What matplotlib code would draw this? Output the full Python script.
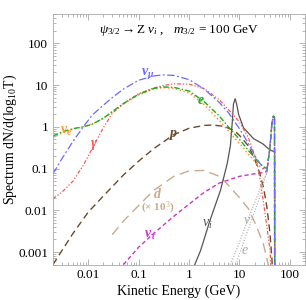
import numpy as np
import matplotlib
matplotlib.use("Agg")
import matplotlib.pyplot as plt
from matplotlib.ticker import LogLocator, FixedLocator, FixedFormatter, NullFormatter

plt.rcParams['font.family'] = ['Liberation Serif', 'DejaVu Serif']
plt.rcParams['mathtext.fontset'] = 'custom'
plt.rcParams['mathtext.rm'] = 'Liberation Serif'
plt.rcParams['mathtext.it'] = 'Liberation Serif:italic'
plt.rcParams['mathtext.bf'] = 'Liberation Serif:bold:italic'

# --- data (E in GeV, dN/dlog10 T) ---
numu_E = [0.002, 0.003, 0.005, 0.008, 0.012, 0.02, 0.03, 0.05, 0.1, 0.2, 0.3, 0.5, 1, 2, 4, 6, 10, 15, 22, 30, 35, 40, 44, 47, 49.5, 50]
numu_y = [0.075, 0.17, 0.45, 1.0, 1.9, 3.3, 5.0, 8.0, 13, 16.5, 17.5, 17, 13.5, 8, 3.8, 2.2, 0.9, 0.4, 0.17, 0.1, 0.09, 0.3, 1.2, 1.8, 1.7, 1e-5]

e_E = [0.002, 0.003, 0.005, 0.008, 0.012, 0.02, 0.03, 0.05, 0.1, 0.2, 0.3, 0.5, 1, 2, 4, 6, 10, 15, 22, 30, 35, 40, 44, 47, 49.5, 50]
e_y = [0.6, 0.75, 0.9, 1.0, 1.15, 1.6, 2.3, 3.6, 6, 8.3, 9, 8.8, 7.2, 4.0, 1.8, 1.0, 0.5, 0.27, 0.16, 0.11, 0.1, 0.3, 1.2, 1.8, 1.7, 1e-5]

nue_E = [0.002, 0.003, 0.005, 0.008, 0.012, 0.02, 0.03, 0.05, 0.1, 0.2, 0.3, 0.5, 1, 2, 4, 6, 10, 15, 22, 30, 35, 40, 44, 47, 49.5, 50]
nue_y = [0.55, 0.7, 0.88, 1.0, 1.15, 1.6, 2.3, 3.5, 5.8, 8, 8.7, 8.3, 6.5, 3.4, 1.4, 0.8, 0.4, 0.22, 0.13, 0.095, 0.09, 0.3, 1.2, 1.8, 1.7, 1e-5]

gam_E = [0.002, 0.003, 0.005, 0.008, 0.012, 0.02, 0.03, 0.05, 0.1, 0.2, 0.3, 0.5, 1, 2, 4, 6, 10, 15, 22, 26, 30, 35, 40, 44]
gam_y = [0.019, 0.027, 0.05, 0.12, 0.3, 0.95, 2.1, 3.6, 6.2, 8.5, 9.7, 10.7, 10.5, 8.2, 4.4, 2.6, 1.3, 0.55, 0.15, 0.05, 0.015, 0.004, 0.0012, 2e-4]

p_E = [0.002, 0.005, 0.01, 0.02, 0.05, 0.1, 0.2, 0.5, 1, 2, 3, 5, 8, 10, 15, 20, 25, 30, 35, 40, 44, 46]
p_y = [5e-4, 0.0028, 0.009, 0.022, 0.07, 0.15, 0.3, 0.65, 0.92, 1.08, 1.1, 1.02, 0.8, 0.62, 0.35, 0.17, 0.08, 0.035, 0.012, 0.003, 7e-4, 2e-4]

d_E = [0.03, 0.05, 0.1, 0.2, 0.5, 1, 2, 4, 6, 10, 15, 22, 30, 36, 40]
d_y = [0.0026, 0.0055, 0.013, 0.03, 0.065, 0.088, 0.09, 0.065, 0.04, 0.02, 0.011, 0.004, 0.0015, 6e-4, 3e-4]

nut_E = [0.05, 0.1, 0.2, 0.5, 1, 2, 4, 10, 20, 30, 35, 40, 44, 47, 49.5, 50]
nut_y = [5e-4, 0.0013, 0.0028, 0.0072, 0.014, 0.027, 0.045, 0.065, 0.075, 0.08, 0.085, 0.3, 1.2, 1.8, 1.7, 1e-5]

nui_E = [1.3, 1.7, 2.6, 4.2, 5.7, 6.6, 7.2, 7.6, 8.2, 8.8, 9.6, 12, 19, 29, 40, 49.8, 50]
nui_y = [5e-4, 0.0011, 0.0057, 0.03, 0.13, 0.35, 1.3, 3.5, 4.7, 3.5, 2.0, 0.95, 0.52, 0.39, 0.28, 0.25, 1e-5]

nu2_E = [6.6, 10, 15, 22, 30, 35]
nu2_y = [5e-4, 0.0017, 0.0065, 0.02, 0.055, 0.08]

e2_E = [8.5, 12, 18, 25, 32, 36]
e2_y = [5e-4, 0.0017, 0.0065, 0.02, 0.06, 0.085]

xticks = [0.01, 0.1, 1, 10, 100]
xtick_labels = ["0.01", "0.1", "1", "10", "100"]
yticks = [0.001, 0.01, 0.1, 1, 10, 100]
ytick_labels = ["0.001", "0.01", "0.1", "1", "10", "100"]

fig = plt.figure(figsize=(3.06, 3.0), dpi=100)
ax = fig.add_axes([0.173, 0.118, 0.824, 0.835])

ax.plot(nut_E, nut_y, color='#cc33cc', lw=1.0, dashes=(3, 2))
ax.plot(d_E, d_y, color='#c9aa8c', lw=1.0, dashes=(7, 4))
ax.plot(p_E, p_y, color='#6b4a2b', lw=1.0, dashes=(5, 3))
ax.plot(nu2_E, nu2_y, color='#aaaaaa', lw=0.8, dashes=(1, 1.5))
ax.plot(e2_E, e2_y, color='#aaaaaa', lw=0.8, dashes=(1, 1.5))
ax.plot(nui_E, nui_y, color='#555555', lw=0.9)
ax.plot(gam_E, gam_y, color='#ff5555', lw=0.9, dashes=(3, 1.5, 1, 1.5, 1, 1.5))
ax.plot(nue_E, nue_y, color='#ff9933', lw=1.1, dashes=(1, 1.6))
ax.plot(e_E, e_y, color='#22aa22', lw=1.0, dashes=(4, 1.5, 1, 1.5))
ax.plot(numu_E, numu_y, color='#6a6aff', lw=0.9, dashes=(6, 2, 1.5, 2))

ax.set_xscale('log')
ax.set_yscale('log')
ax.set_xlim(0.002, 200)
ax.set_ylim(5e-4, 500)

ax.xaxis.set_major_locator(FixedLocator(xticks))
ax.xaxis.set_major_formatter(FixedFormatter(xtick_labels))
ax.yaxis.set_major_locator(FixedLocator(yticks))
ax.yaxis.set_major_formatter(FixedFormatter(ytick_labels))
ax.xaxis.set_minor_locator(LogLocator(base=10, subs=np.arange(2, 10)))
ax.yaxis.set_minor_locator(LogLocator(base=10, subs=np.arange(2, 10)))
ax.xaxis.set_minor_formatter(NullFormatter())
ax.yaxis.set_minor_formatter(NullFormatter())
ax.tick_params(which='both', direction='in', top=True, right=True,
               color='#999999', labelsize=9.5, width=0.5)
ax.tick_params(which='major', length=4)
ax.tick_params(which='minor', length=2)
for s in ax.spines.values():
    s.set_color('#aaaaaa')
    s.set_linewidth(0.6)

ax.set_xlabel("Kinetic Energy (GeV)", fontsize=10, labelpad=2)
ax.set_ylabel(r"Spectrum dN/d(log$_{10}$T)", fontsize=10)
ax.yaxis.set_label_coords(-0.135, 0.5)

ax.text(0.5, 0.935, r"$\psi_{3/2} \rightarrow \mathrm{Z}\ \nu_i$ ,   $m_{3/2}$ = 100 GeV",
        transform=ax.transAxes, ha='center', va='center', fontsize=9.5)

lab = dict(fontsize=10, ha='center', va='center')
ax.text(0.15, 19, r"$\mathbf{\nu_\mu}$", color='#6a6aff', **lab)
ax.text(1.7, 4.3, r"$\mathbf{e}$", color='#22aa22', **lab)
ax.text(0.0036, 0.78, r"$\mathbf{\nu_e}$", color='#ff9933', **lab)
ax.text(0.013, 0.37, r"$\mathbf{\gamma}$", color='#ff5555', **lab)
ax.text(0.5, 0.62, r"$\mathbf{p}$", color='#6b4a2b', **lab)
ax.text(0.24, 0.025, r"$\mathbf{d}$", color='#c9aa8c', **lab)
ax.text(0.24, 0.0115, r"(× 10$^3$)", color='#c9aa8c', fontsize=8, ha='center', va='center', fontweight='bold')
ax.text(0.17, 0.0025, r"$\mathbf{\nu_\tau}$", color='#cc33cc', **lab)
ax.text(2.3, 0.0046, r"$\nu_i$", color='#555555', fontsize=10, ha='center', va='center')
ax.text(14, 0.0056, r"$\nu$", color='#aaaaaa', fontsize=10, ha='center', va='center')
ax.text(13, 0.0011, r"$e$", color='#aaaaaa', fontsize=10, ha='center', va='center')

fig.savefig("out.png", dpi=100)
